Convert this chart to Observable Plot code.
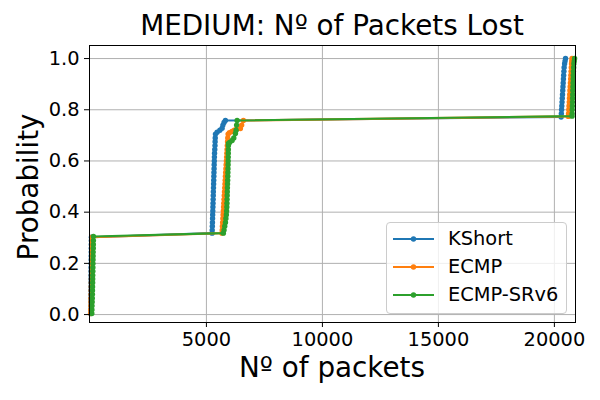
<!DOCTYPE html>
<html>
<head>
<meta charset="utf-8">
<script src="https://cdn.jsdelivr.net/npm/d3@7"></script>
<script src="https://cdn.jsdelivr.net/npm/@observablehq/plot@0.6"></script>
<style>
  body { margin: 0; background: white; font-family: "DejaVu Sans", sans-serif; }
  #wrap { position: relative; width: 600px; height: 400px; overflow: hidden; background: white; }
  .lbl { position: absolute; color: black; white-space: nowrap; line-height: 1; text-align: center; }
  #legend { position: absolute; left: 386px; top: 222px; width: 179px; height: 90px;
            border: 1px solid #cccccc; border-radius: 4px; background: rgba(255,255,255,0.8); }
  .row { position: absolute; left: 0; height: 20px; width: 179px; }
  .row svg { position: absolute; left: 5px; top: 0; }
  .row span { position: absolute; left: 61px; top: 0; font-size: 19.4px; line-height: 20px; color: black; }
</style>
</head>
<body>
<div id="wrap">
  <div id="chart"></div>
</div>
<script>
const seriesNames = ["KShort", "ECMP", "ECMP-SRv6"];
const seriesColors = ["#1f77b4", "#ff7f0e", "#2ca02c"];

const kshortX = [8,10,12,14,15,17,18,20,22,23,25,27,28,30,32,34,35,37,39,40,42,
  5245,5250,5255,5260,5265,5270,5275,5280,5285,5290,5295,5300,5305,5310,5315,5320,5325,5330,5335,5340,5345,5350,5360,5370,5375,5380,5390,
  5461,5580,5676,5710,5760,5819,
  20290,20300,20310,20320,20330,20340,20350,20360,20370,20380,20390,20400,20410,20420,20440,20460,20480];
const kshortP = [0.004,0.019,0.034,0.049,0.064,0.079,0.094,0.109,0.124,0.139,0.154,0.169,0.184,0.199,0.214,0.229,0.244,0.259,0.274,0.289,0.302,
  0.318,0.33,0.345,0.36,0.375,0.39,0.405,0.42,0.435,0.45,0.465,0.48,0.495,0.51,0.525,0.54,0.555,0.57,0.585,0.6,0.615,0.63,0.645,0.66,0.675,0.69,0.705,
  0.712,0.72,0.728,0.74,0.75,0.758,
  0.772,0.785,0.8,0.815,0.83,0.845,0.86,0.875,0.89,0.905,0.92,0.935,0.95,0.965,0.98,0.99,1.0];

const ecmpX = [10,14,18,22,25,28,32,35,38,42,45,48,52,55,58,62,65,68,72,75,78,
  5670,5680,5690,5700,5710,5720,5730,5740,5750,5760,5770,5780,5790,5800,5810,5820,5830,5840,5850,5860,5870,5880,5890,5900,5910,5920,5935,
  5990,6100,6200,6300,6465,6520,6594,
  20600,20610,20620,20630,20640,20650,20660,20670,20680,20690,20700,20710,20720,20730,20740,20750,20760];
const ecmpP = [0.004,0.019,0.034,0.049,0.064,0.079,0.094,0.109,0.124,0.139,0.154,0.169,0.184,0.199,0.214,0.229,0.244,0.259,0.274,0.289,0.302,
  0.318,0.33,0.345,0.36,0.375,0.39,0.405,0.42,0.435,0.45,0.465,0.48,0.495,0.51,0.525,0.54,0.555,0.57,0.585,0.6,0.615,0.63,0.645,0.66,0.675,0.69,0.705,
  0.71,0.715,0.72,0.724,0.727,0.74,0.758,
  0.774,0.785,0.8,0.815,0.83,0.845,0.86,0.875,0.89,0.905,0.92,0.935,0.95,0.965,0.98,0.99,1.0];

const srv6X = [60,65,70,75,80,85,88,92,95,98,100,103,106,110,113,116,119,122,125,128,130,
  5730,5760,5790,5820,5840,5860,5870,5880,5885,5890,5895,5900,5905,5910,5915,5920,5925,5930,5935,5938,5940,5943,5945,5948,5950,
  6000,6107,6180,6250,6280,6300,6323,
  20760,20765,20770,20775,20780,20785,20790,20795,20800,20805,20810,20815,20820,20830,20840,20855,20870];
const srv6P = [0.004,0.019,0.034,0.049,0.064,0.079,0.094,0.109,0.124,0.139,0.154,0.169,0.184,0.199,0.214,0.229,0.244,0.259,0.274,0.289,0.305,
  0.318,0.33,0.345,0.36,0.375,0.39,0.405,0.42,0.435,0.45,0.465,0.48,0.495,0.51,0.525,0.54,0.555,0.57,0.585,0.6,0.615,0.63,0.645,0.66,0.668,
  0.672,0.68,0.69,0.707,0.72,0.74,0.758,
  0.775,0.785,0.8,0.815,0.83,0.845,0.86,0.875,0.89,0.905,0.92,0.935,0.95,0.965,0.98,0.99,1.0];

const xTicks = [5000, 10000, 15000, 20000];
const yTicks = [0.0, 0.2, 0.4, 0.6, 0.8, 1.0];
const titleText = "MEDIUM: Nº of Packets Lost";
const xLabel = "Nº of packets";
const yLabel = "Probability";

const allX = [kshortX, ecmpX, srv6X];
const allP = [kshortP, ecmpP, srv6P];
const tables = allX.map((xs, k) => xs.map((x, i) => ({x, p: allP[k][i], s: seriesNames[k]})));

const seriesMarks = [];
tables.forEach((t, k) => {
  seriesMarks.push(Plot.line(t, {x: "x", y: "p", stroke: seriesColors[k], strokeWidth: 2.1}));
  seriesMarks.push(Plot.dot(t, {x: "x", y: "p", fill: seriesColors[k], r: 2.7, stroke: "none"}));
});

const chart = Plot.plot({
  width: 600, height: 400,
  marginTop: 45, marginLeft: 89, marginRight: 25, marginBottom: 78,
  style: {fontFamily: "DejaVu Sans", fontSize: "19.4px", color: "black", background: "white"},
  x: {domain: [-40, 20910]},
  y: {domain: [-0.031, 1.051]},
  marks: [
    Plot.gridX(xTicks, {stroke: "#b0b0b0", strokeOpacity: 1, strokeWidth: 1}),
    Plot.gridY(yTicks, {stroke: "#b0b0b0", strokeOpacity: 1, strokeWidth: 1}),
    ...seriesMarks,
    Plot.frame({stroke: "black", strokeWidth: 1}),
    Plot.axisX(xTicks, {tickSize: 5, tickPadding: 5, tickFormat: d => String(d), label: null, fontSize: 19.4}),
    Plot.axisY(yTicks, {tickSize: 5, tickPadding: 5, tickFormat: d => d.toFixed(1), label: null, fontSize: 19.4})
  ]
});
document.getElementById("chart").appendChild(chart);

const wrap = document.getElementById("wrap");
function addLabel(text, css) {
  const d = document.createElement("div");
  d.className = "lbl";
  d.textContent = text;
  Object.assign(d.style, css);
  wrap.appendChild(d);
}
addLabel(titleText, {left: "32px", top: "11.5px", width: "600px", fontSize: "27.8px"});
addLabel(xLabel, {left: "32px", top: "353.5px", width: "600px", fontSize: "27.8px"});
addLabel(yLabel, {left: "-120.6px", top: "173px", width: "300px", height: "27.8px", fontSize: "27.8px", transform: "rotate(-90deg)"});

const legend = document.createElement("div");
legend.id = "legend";
seriesNames.forEach((name, k) => {
  const row = document.createElement("div");
  row.className = "row";
  row.style.top = (6 + k * 28) + "px";
  row.innerHTML = `<svg width="44" height="20"><line x1="1" y1="10" x2="42" y2="10" stroke="${seriesColors[k]}" stroke-width="2.1"/><circle cx="21.5" cy="10" r="2.7" fill="${seriesColors[k]}"/></svg><span>${name}</span>`;
  legend.appendChild(row);
});
wrap.appendChild(legend);
</script>
</body>
</html>
